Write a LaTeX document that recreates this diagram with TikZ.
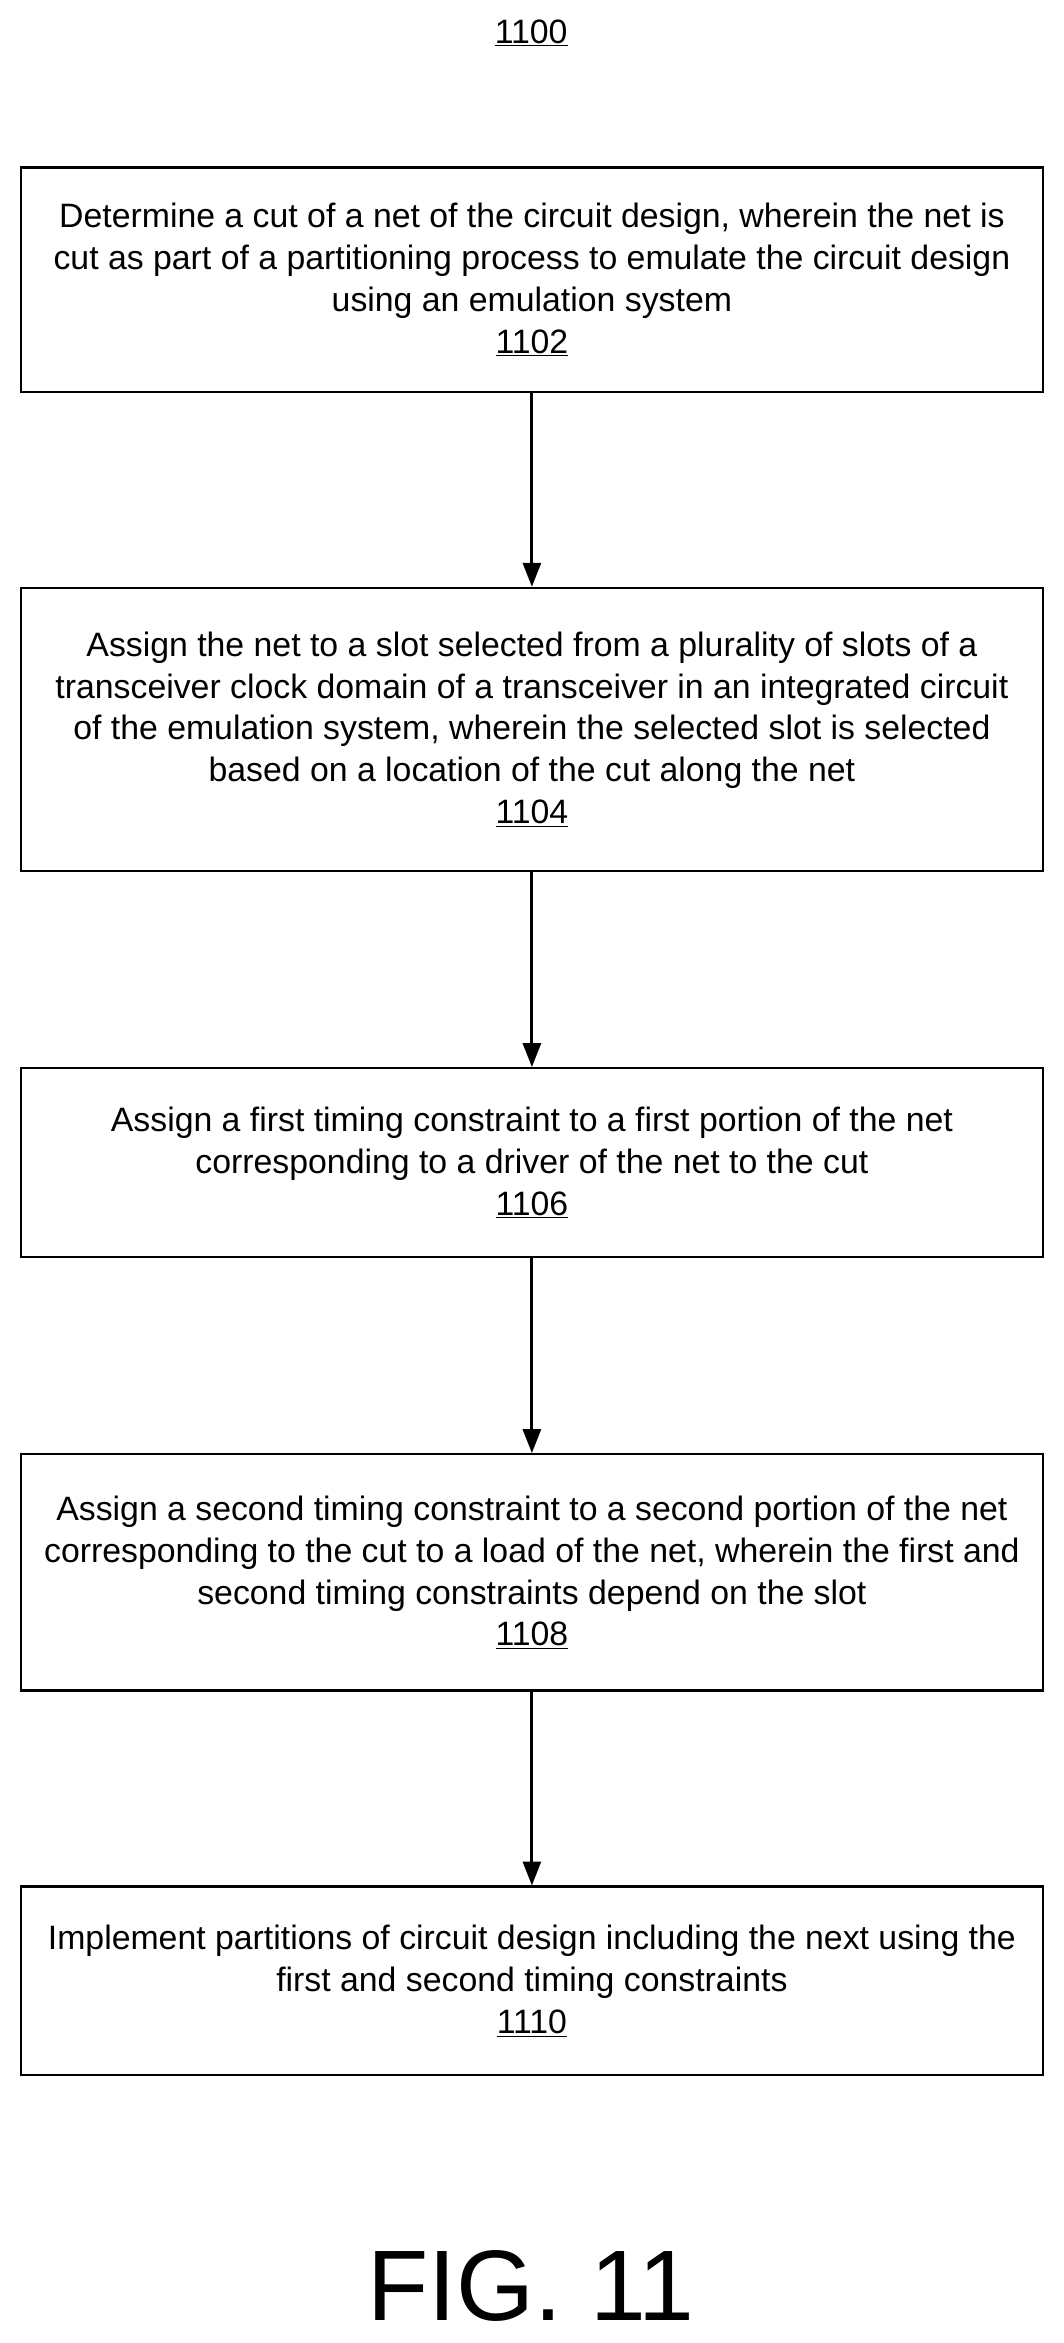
\documentclass[tikz,border=0pt]{standalone}
\usepackage{fontspec}
\setmainfont{Liberation Sans}
\usetikzlibrary{arrows.meta}
\begin{document}
\begin{tikzpicture}[x=1pt,y=-1pt,
  stepbox/.style={draw,line width=1.6pt,minimum width=683pt,align=center,font=\fontsize{22.6}{28}\selectfont,inner sep=0pt},
  arr/.style={-{Triangle[length=16pt,width=12pt]},line width=2pt}]
\useasboundingbox (0,0) rectangle (711,1566);
\node[font=\fontsize{22.6}{28}\selectfont] (t) at (355,22) {\underline{1100}};
\node[stepbox,minimum height=150pt] (b1) at (355.5,187) {Determine a cut of a net of the circuit design, wherein the net is\\cut as part of a partitioning process to emulate the circuit design\\using an emulation system\\\underline{1102}};
\node[stepbox,minimum height=189pt] (b2) at (355.5,487.5) {Assign the net to a slot selected from a plurality of slots of a\\transceiver clock domain of a transceiver in an integrated circuit\\of the emulation system, wherein the selected slot is selected\\based on a location of the cut along the net\\\underline{1104}};
\node[stepbox,minimum height=126pt] (b3) at (355.5,777) {Assign a first timing constraint to a first portion of the net\\corresponding to a driver of the net to the cut\\\underline{1106}};
\node[stepbox,minimum height=158pt] (b4) at (355.5,1051) {Assign a second timing constraint to a second portion of the net\\corresponding to the cut to a load of the net, wherein the first and\\second timing constraints depend on the slot\\\underline{1108}};
\node[stepbox,minimum height=126pt] (b5) at (355.5,1324) {Implement partitions of circuit design including the next using the\\first and second timing constraints\\\underline{1110}};
\node[font=\fontsize{67}{75}\selectfont] (fig) at (355,1528) {FIG. 11};
\draw[arr] (b1) -- (b2);
\draw[arr] (b2) -- (b3);
\draw[arr] (b3) -- (b4);
\draw[arr] (b4) -- (b5);
\end{tikzpicture}
\end{document}
